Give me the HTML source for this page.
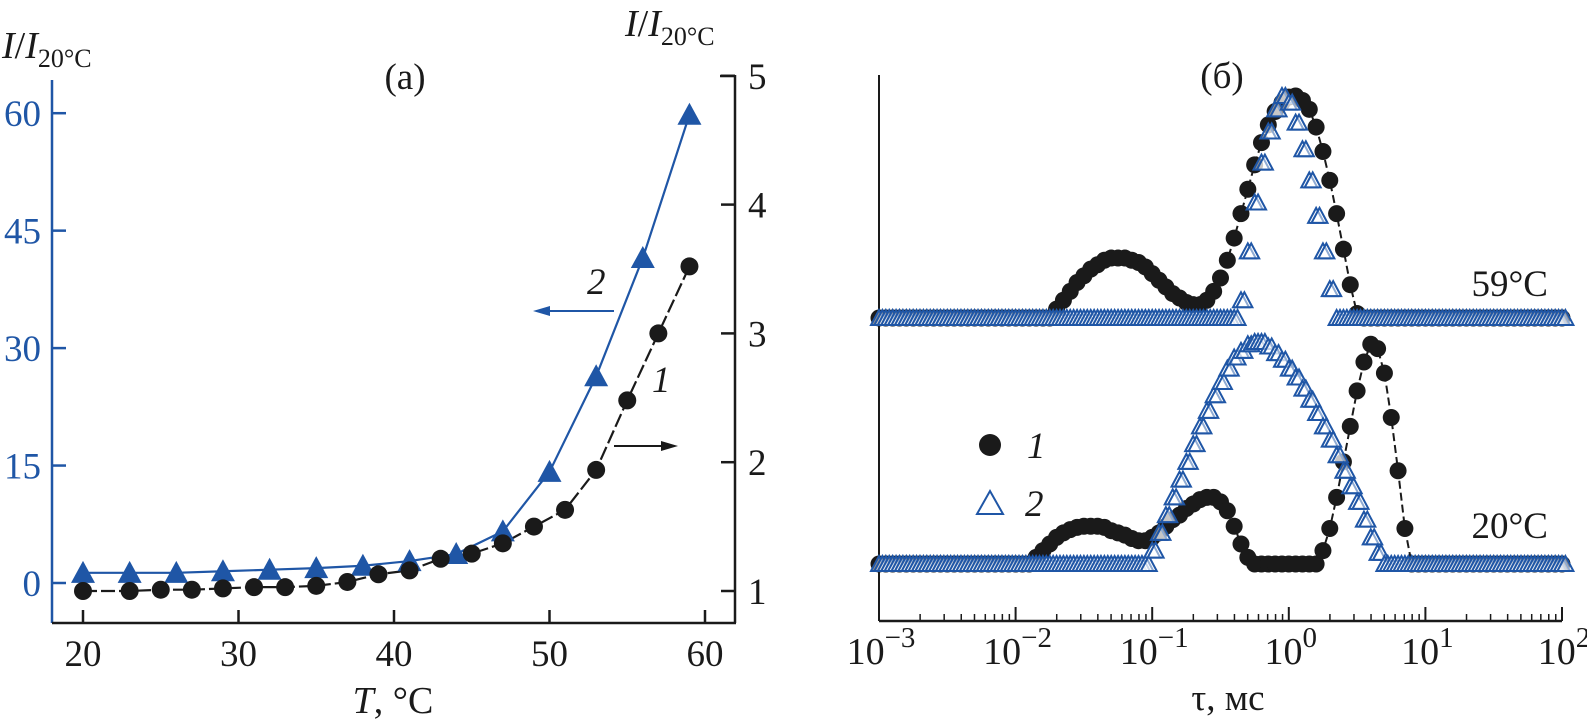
<!DOCTYPE html>
<html><head><meta charset="utf-8"><style>
body{margin:0;background:#fff;}
svg{display:block;font-family:"Liberation Serif",serif;}
</style></head><body>
<svg id="c" width="1587" height="725" viewBox="0 0 1587 725"></svg>
<script>
// ---- Panel (a) data ----
const tempBlue=[20,23,26,29,32,35,38,41,44,47,50,53,56,59];
const valBlue=[1.3,1.3,1.3,1.5,1.7,1.9,2.2,2.8,3.7,6.6,14.2,26.4,41.5,59.8];
const tempBlack=[20,23,25,27,29,31,33,35,37,39,41,43,45,47,49,51,53,55,57,59];
const valBlack=[1.0,1.0,1.01,1.01,1.02,1.03,1.03,1.04,1.07,1.13,1.16,1.25,1.29,1.37,1.50,1.63,1.94,2.48,3.00,3.52];
const xTicksA=[20,30,40,50,60];
const yTicksLeft=[0,15,30,45,60];
const yTicksRight=[1,2,3,4,5];
// ---- Panel (b) data: log10(tau) grid from -3 to 2, step 0.05 ----
const logStart=-3, logStep=0.05;
const b59=[0,0,0,0,0,0,0,0,0,0,0,0,0,0,0,0,0,0,0,0,0,0,0,0,0,0,
0.04,0.08,0.12,0.16,0.19,0.22,0.24,0.26,0.27,0.27,0.27,0.26,0.25,0.23,0.20,0.17,0.14,0.11,0.09,0.07,0.06,0.06,0.08,0.12,0.18,0.26,0.36,0.47,0.58,0.69,0.79,0.87,0.93,0.97,0.995,1.0,0.98,0.94,0.86,0.75,0.62,0.47,0.31,0.15,0.02,
0,0,0,0,0,0,0,0,0,0,0,0,0,0,0,0,0,0,0,0,0,0,0,0,0,0,0,0,0,0];
const t59=[0,0,0,0,0,0,0,0,0,0,0,0,0,0,0,0,0,0,0,0,0,0,0,0,0,0,0,0,0,0,0,0,0,0,0,0,0,0,0,0,0,0,0,0,0,0,0,0,0,0,0,0,0,
0.08,0.30,0.52,0.70,0.84,0.94,1.0,0.97,0.88,0.76,0.62,0.46,0.30,0.13,
0,0,0,0,0,0,0,0,0,0,0,0,0,0,0,0,0,0,0,0,0,0,0,0,0,0,0,0,0,0,0,0,0,0];
const b20=[0,0,0,0,0,0,0,0,0,0,0,0,0,0,0,0,0,0,0,0,0,0,0,
0.03,0.06,0.09,0.12,0.14,0.155,0.165,0.17,0.17,0.17,0.165,0.15,0.14,0.13,0.115,0.105,0.105,0.12,0.14,0.17,0.20,0.22,0.25,0.27,0.29,0.30,0.30,0.28,0.24,0.17,0.09,0.03,
0,0,0,0,0,0,0,0,0,0,
0.06,0.16,0.30,0.46,0.62,0.78,0.91,0.99,0.97,0.86,0.66,0.42,0.16,
0,0,0,0,0,0,0,0,0,0,0,0,0,0,0,0,0,0,0,0,0,0,0];
const t20=[0,0,0,0,0,0,0,0,0,0,0,0,0,0,0,0,0,0,0,0,0,0,0,0,0,0,0,0,0,0,0,0,0,0,0,0,0,0,0,0,
0.06,0.14,0.22,0.30,0.38,0.46,0.54,0.62,0.69,0.76,0.82,0.88,0.93,0.96,0.99,1.0,1.0,0.98,0.95,0.92,0.88,0.84,0.79,0.74,0.68,0.62,0.56,0.49,0.42,0.35,0.28,0.20,0.12,0.05,
0,0,0,0,0,0,0,0,0,0,0,0,0,0,0,0,0,0,0,0,0,0,0,0,0,0,0];
const xTickExpB=[-3,-2,-1,0,1,2];

const NS="http://www.w3.org/2000/svg";
const svg=document.getElementById('c');
const BLUE="#1f56a6", BLK="#1a1a1a";
function mk(tag,attrs,parent){const e=document.createElementNS(NS,tag);for(const k in attrs)e.setAttribute(k,attrs[k]);(parent||svg).appendChild(e);return e;}
function txt(x,y,s,attrs,parent){const e=mk('text',Object.assign({x:x,y:y},attrs),parent);e.innerHTML=s;return e;}

// ===== Panel a =====
const gA=mk('g',{});


const xA=t=>83+(t-20)*15.55;
const yL=v=>583-v*7.83;
const yR=v=>591-(v-1)*128.8;
let e=mk('line',{x1:52,y1:80,x2:52,y2:623,stroke:BLUE,'stroke-width':2.5},gA);

e=mk('line',{x1:52,y1:623,x2:736,y2:623,stroke:BLK,'stroke-width':2.5},gA);

e=mk('line',{x1:735,y1:75,x2:735,y2:623,stroke:BLK,'stroke-width':2.5},gA);

e=mk('line',{x1:720,y1:76,x2:735,y2:76,stroke:BLK,'stroke-width':2.5},gA);
xTicksA.forEach(t=>{
  const l=mk('line',{x1:xA(t),y1:623,x2:xA(t),y2:610,stroke:BLK,'stroke-width':2.5},gA);
  
  const s=txt(xA(t),666,t,{'font-size':37,'text-anchor':'middle',fill:BLK},gA);
  
});
yTicksLeft.forEach(v=>{
  const l=mk('line',{x1:52,y1:yL(v),x2:66,y2:yL(v),stroke:BLUE,'stroke-width':2.5},gA);
  
  const s=txt(41,yL(v)+13,v,{'font-size':37,'text-anchor':'end',fill:BLUE},gA);
  
});
yTicksRight.forEach(v=>{
  const l=mk('line',{x1:721,y1:yR(v),x2:735,y2:yR(v),stroke:BLK,'stroke-width':2.5},gA);
  
  const s=txt(748,yR(v)+13,v,{'font-size':37,fill:BLK},gA);
  
});
const pB=tempBlue.map((t,i)=>xA(t)+','+yL(valBlue[i])).join(' ');
e=mk('polyline',{points:pB,fill:'none',stroke:BLUE,'stroke-width':2.2},gA);

const pK=tempBlack.map((t,i)=>xA(t)+','+yR(valBlack[i])).join(' ');
e=mk('polyline',{points:pK,fill:'none',stroke:BLK,'stroke-width':2.2,'stroke-dasharray':'14,4'},gA);

tempBlue.forEach((t,i)=>{
  const x=xA(t),y=yL(valBlue[i]);
  const p=mk('polygon',{points:`${x-12},${y+10} ${x+12},${y+10} ${x},${y-12}`,fill:BLUE},gA);
  
});
tempBlack.forEach((t,i)=>{
  const c=mk('circle',{cx:xA(t),cy:yR(valBlack[i]),r:9,fill:BLK},gA);
  
});
e=mk('line',{x1:614,y1:311,x2:546,y2:311,stroke:BLUE,'stroke-width':2},gA);

mk('polygon',{points:'533,311 550,306 550,316',fill:BLUE},gA);
e=mk('line',{x1:614,y1:446,x2:665,y2:446,stroke:BLK,'stroke-width':2},gA);

mk('polygon',{points:'678,446 661,441 661,451',fill:BLK},gA);
e=txt(587,294,'2',{'font-size':37,'font-style':'italic',fill:BLK},gA);

e=txt(652,392,'1',{'font-size':37,'font-style':'italic',fill:BLK},gA);

e=txt(405,89,'(a)',{'font-size':37,'text-anchor':'middle',fill:BLK},gA);

e=txt(2,58,'<tspan font-style="italic">I</tspan>/<tspan font-style="italic">I</tspan><tspan font-size="26" dy="9">20°C</tspan>',{'font-size':38,fill:BLK},gA);

e=txt(625,36,'<tspan font-style="italic">I</tspan>/<tspan font-style="italic">I</tspan><tspan font-size="26" dy="9">20°C</tspan>',{'font-size':38,fill:BLK},gA);

e=txt(393,713,'<tspan font-style="italic">T</tspan>, °C',{'font-size':38,'text-anchor':'middle',fill:BLK},gA);


// ===== Panel b =====
const gB=mk('g',{});


const X0=879, DEC=136.6, AXY=621;
const xB=lg=>X0+(lg+3)*DEC;
const AMP=222, BASE59=318, BASE20=564;
e=mk('line',{x1:X0,y1:75,x2:X0,y2:AXY,stroke:BLK,'stroke-width':2},gB);

e=mk('line',{x1:X0,y1:AXY,x2:xB(2),y2:AXY,stroke:BLK,'stroke-width':2.5},gB);

xTickExpB.forEach(p=>{
  const l=mk('line',{x1:xB(p),y1:AXY,x2:xB(p),y2:AXY-14,stroke:BLK,'stroke-width':2},gB);
  
  const s=txt(xB(p)+2,664,'10<tspan font-size="29" dy="-17">'+(p<0?'−'+(-p):p)+'</tspan>',{'font-size':38,'text-anchor':'middle',fill:BLK},gB);
  
  if(p<2){for(let m=2;m<=9;m++){
    const lm=mk('line',{x1:xB(p+Math.log10(m)),y1:AXY,x2:xB(p+Math.log10(m)),y2:AXY-7,stroke:BLK,'stroke-width':1.5},gB);
    
  }}
});
e=txt(1228,710,'τ, мс',{'font-size':37,'text-anchor':'middle',fill:BLK},gB);

e=txt(1222,88,'(б)',{'font-size':37,'text-anchor':'middle',fill:BLK},gB);

e=txt(1548,296,'59°C',{'font-size':37,'text-anchor':'end',fill:BLK},gB);

e=txt(1548,538,'20°C',{'font-size':37,'text-anchor':'end',fill:BLK},gB);


function drawDots(vals,base,name){
  const pts=vals.map((v,i)=>xB(logStart+i*logStep)+','+(base-v*AMP)).join(' ');
  const l=mk('polyline',{points:pts,fill:'none',stroke:BLK,'stroke-width':2,'stroke-dasharray':'8,4'},gB);
  
  vals.forEach((v,i)=>{
    const c=mk('circle',{cx:xB(logStart+i*logStep),cy:base-v*AMP,r:8.5,fill:BLK},gB);
    
  });
}
function drawTris(vals,base,name){
  vals.forEach((v,i)=>{
    const x=xB(logStart+i*logStep), y=base-v*AMP;
    [0,3.4].forEach(dx=>{
      const p=mk('polygon',{points:`${x+dx-8},${y+7} ${x+dx+8},${y+7} ${x+dx},${y-8}`,fill:'#fff','fill-opacity':0.5,stroke:BLUE,'stroke-width':2},gB);
      
    });
  });
}
drawDots(b59,BASE59,'series-1-59c');
drawTris(t59,BASE59,'series-2-59c');
drawDots(b20,BASE20,'series-1-20c');
drawTris(t20,BASE20,'series-2-20c');
e=mk('circle',{cx:990,cy:445,r:11,fill:BLK},gB);

e=txt(1027,458,'1',{'font-size':37,'font-style':'italic',fill:BLK},gB);

e=mk('polygon',{points:'977,514 1003,514 990,491',fill:'none',stroke:BLUE,'stroke-width':2},gB);

e=txt(1025,516,'2',{'font-size':37,'font-style':'italic',fill:BLK},gB);

</script>
</body></html>
